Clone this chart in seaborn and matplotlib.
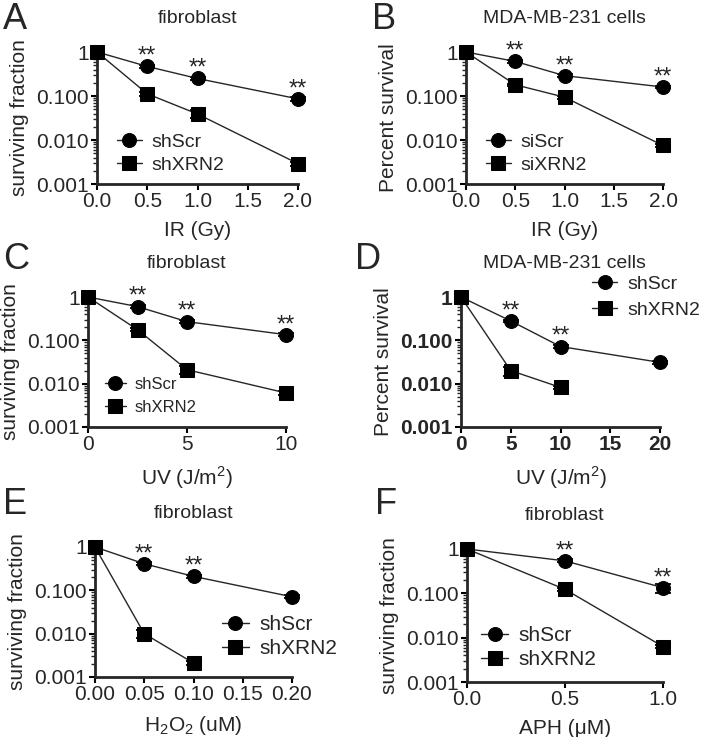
import numpy as np
import pandas as pd
import matplotlib
matplotlib.use("Agg")
import matplotlib.pyplot as plt
from matplotlib.ticker import LogLocator, FixedLocator, NullFormatter
import seaborn as sns

###############################################
# data
###############################################
# A - fibroblast, IR
A_dose = [0, 0.5, 1.0, 2.0]
A_ctrl = [1, 0.47, 0.25, 0.086]
A_ctrl_err = [0, 0.03, 0.02, 0.008]
A_kd = [1, 0.112, 0.039, 0.0029]
A_kd_err = [0, 0.012, 0.008, 0.0003]
A_stars = [0.5, 1.0, 2.0]

# B - MDA-MB-231, IR
B_dose = [0, 0.5, 1.0, 2.0]
B_ctrl = [1, 0.61, 0.29, 0.16]
B_ctrl_err = [0, 0.04, 0.02, 0.01]
B_kd = [1, 0.18, 0.094, 0.0075]
B_kd_err = [0, 0.012, 0.008, 0.0006]
B_stars = [0.5, 1.0, 2.0]

# C - fibroblast, UV
C_dose = [0, 2.5, 5, 10]
C_ctrl = [1, 0.6, 0.27, 0.135]
C_ctrl_err = [0, 0.04, 0.02, 0.01]
C_kd = [1, 0.176, 0.021, 0.0061]
C_kd_err = [0, 0.015, 0.0045, 0.0005]
C_stars = [2.5, 5, 10]

# D - MDA-MB-231, UV
D_dose_ctrl = [0, 5, 10, 20]
D_ctrl = [1, 0.28, 0.072, 0.031]
D_ctrl_err = [0, 0.02, 0.005, 0.002]
D_dose_kd = [0, 5, 10]
D_kd = [1, 0.02, 0.0082]
D_kd_err = [0, 0.0048, 0.0006]
D_stars = [5, 10]

# E - fibroblast, H2O2
E_dose_ctrl = [0, 0.05, 0.10, 0.20]
E_ctrl = [1, 0.41, 0.21, 0.071]
E_ctrl_err = [0, 0.03, 0.015, 0.005]
E_dose_kd = [0, 0.05, 0.10]
E_kd = [1, 0.010, 0.0021]
E_kd_err = [0, 0.0022, 0.0002]
E_stars = [0.05, 0.10]

# F - fibroblast, APH
F_dose = [0, 0.5, 1.0]
F_ctrl = [1, 0.54, 0.134]
F_ctrl_err = [0, 0.04, 0.032]
F_kd = [1, 0.123, 0.0063]
F_kd_err = [0, 0.008, 0.0005]
F_stars = [0.5, 1.0]

y_ticks = [0.001, 0.01, 0.1, 1]
y_ticklabels = ["0.001", "0.010", "0.100", "1"]

###############################################
# style
###############################################
sns.set_style("ticks")
plt.rcParams["font.family"] = ["Liberation Sans", "DejaVu Sans"]
plt.rcParams["mathtext.fontset"] = "custom"
plt.rcParams["mathtext.rm"] = "Liberation Sans"

fig = plt.figure(figsize=(7.02, 7.37), dpi=100)
W, H = 702, 737


def add_axes(px_left, px_right, px_top, px_bottom):
    return fig.add_axes([px_left / W, 1 - px_bottom / H,
                         (px_right - px_left) / W, (px_bottom - px_top) / H])


def draw_panel(ax, ctrl, kd, names, xticks, xlabel, ylabel, title,
               legend_anchor, legend_loc="center left", legend_size=14,
               legend_spacing=0.25, bold_ticks=False, title_x=0.5):
    # ctrl / kd are (dose, value, err)
    rows = []
    for name, (dose, val, _) in zip(names, [ctrl, kd]):
        for d, v in zip(dose, val):
            rows.append({"dose": d, "value": v, "group": name})
    df = pd.DataFrame(rows)

    sns.lineplot(
        data=df, x="dose", y="value", hue="group", style="group",
        markers={names[0]: "o", names[1]: "s"}, dashes=False,
        palette={names[0]: "#262626", names[1]: "#262626"},
        linewidth=1, markersize=10, markeredgecolor="black",
        markerfacecolor="black", clip_on=False, ax=ax, zorder=3,
    )

    for dose, val, err in [ctrl, kd]:
        dose = np.array(dose)
        val = np.array(val)
        err = np.array(err)
        keep = err > 0
        ax.errorbar(dose[keep], val[keep], yerr=err[keep], fmt="none",
                    ecolor="black", elinewidth=1.3, capsize=6, capthick=1.3,
                    clip_on=False, zorder=2)

    ax.set_yscale("log")
    ax.set_ylim(0.001, 1)
    ax.set_xlim(xticks[0], xticks[-1])
    ax.yaxis.set_major_locator(FixedLocator(y_ticks))
    ax.set_yticklabels(y_ticklabels)
    ax.yaxis.set_minor_locator(LogLocator(base=10, subs=np.arange(2, 10)))
    ax.yaxis.set_minor_formatter(NullFormatter())
    ax.set_xticks(xticks)

    sns.despine(ax=ax)
    for s in ["left", "bottom"]:
        ax.spines[s].set_linewidth(2)
    ax.tick_params(axis="both", which="major", length=4, width=1.5,
                   labelsize=15, pad=2, color="black")
    ax.tick_params(axis="y", which="minor", length=3, width=1)
    if bold_ticks:
        for lab in ax.get_xticklabels() + ax.get_yticklabels():
            lab.set_fontweight("bold")

    ax.set_xlabel(xlabel, fontsize=15, labelpad=7)
    ax.set_ylabel(ylabel, fontsize=15, labelpad=5)
    ax.annotate(title, (title_x, 1.0), xycoords="axes fraction",
                xytext=(0, 24), textcoords="offset points",
                ha="center", va="center", fontsize=14)

    sns.move_legend(ax, legend_loc, bbox_to_anchor=legend_anchor,
                    frameon=False, title=None, fontsize=legend_size,
                    handlelength=1.3, handletextpad=0.5,
                    labelspacing=legend_spacing, borderaxespad=0)


def add_stars(ax, dose, val, star_doses):
    for d, v in zip(dose, val):
        if d in star_doses:
            ax.annotate("**", (d, v), xytext=(0, -1), textcoords="offset points",
                        ha="center", va="bottom", fontsize=17)


###############################################
# panels
###############################################
axA = add_axes(97, 298, 52, 184)
draw_panel(axA, (A_dose, A_ctrl, A_ctrl_err), (A_dose, A_kd, A_kd_err),
           ["shScr", "shXRN2"], [0.0, 0.5, 1.0, 1.5, 2.0], "IR (Gy)",
           "surviving fraction", "fibroblast", (0.06, 0.23))
axA.set_xticklabels(["0.0", "0.5", "1.0", "1.5", "2.0"])
add_stars(axA, A_dose, A_ctrl, A_stars)

axB = add_axes(466, 663, 52, 184)
draw_panel(axB, (B_dose, B_ctrl, B_ctrl_err), (B_dose, B_kd, B_kd_err),
           ["siScr", "siXRN2"], [0.0, 0.5, 1.0, 1.5, 2.0], "IR (Gy)",
           "Percent survival", "MDA-MB-231 cells", (0.06, 0.23))
axB.set_xticklabels(["0.0", "0.5", "1.0", "1.5", "2.0"])
add_stars(axB, B_dose, B_ctrl, B_stars)

axC = add_axes(88, 286, 297, 427)
draw_panel(axC, (C_dose, C_ctrl, C_ctrl_err), (C_dose, C_kd, C_kd_err),
           ["shScr", "shXRN2"], [0, 5, 10], "UV (J/m$^2$)",
           "surviving fraction", "fibroblast", (0.05, 0.24), legend_size=12,
           legend_spacing=0.45)
add_stars(axC, C_dose, C_ctrl, C_stars)

axD = add_axes(461, 660, 297, 427)
draw_panel(axD, (D_dose_ctrl, D_ctrl, D_ctrl_err), (D_dose_kd, D_kd, D_kd_err),
           ["shScr", "shXRN2"], [0, 5, 10, 15, 20], "UV (J/m$^2$)",
           "Percent survival", "MDA-MB-231 cells", (0.62, 1.0),
           legend_size=14, legend_spacing=0.45, bold_ticks=True, title_x=0.52)
add_stars(axD, D_dose_ctrl, D_ctrl, D_stars)

axE = add_axes(95, 292, 547, 677)
draw_panel(axE, (E_dose_ctrl, E_ctrl, E_ctrl_err), (E_dose_kd, E_kd, E_kd_err),
           ["shScr", "shXRN2"], [0.0, 0.05, 0.10, 0.15, 0.20],
           "H$_2$O$_2$ (uM)", "surviving fraction", "fibroblast", (0.60, 0.31),
           legend_size=15)
axE.set_xticklabels(["0.00", "0.05", "0.10", "0.15", "0.20"])
add_stars(axE, E_dose_ctrl, E_ctrl, E_stars)

axF = add_axes(467, 663, 549, 682)
draw_panel(axF, (F_dose, F_ctrl, F_ctrl_err), (F_dose, F_kd, F_kd_err),
           ["shScr", "shXRN2"], [0.0, 0.5, 1.0], "APH (\u03bcM)",
           "surviving fraction", "fibroblast", (0.03, 0.26), legend_size=15)
axF.set_xticklabels(["0.0", "0.5", "1.0"])
add_stars(axF, F_dose, F_ctrl, F_stars)

# panel letters
for letter, x, y in [("A", 3, 2), ("B", 372, 2), ("C", 3, 242),
                     ("D", 355, 242), ("E", 3, 487), ("F", 375, 487)]:
    fig.text(x / W, 1 - y / H, letter, fontsize=26, ha="left", va="top")

fig.savefig("out.png", dpi=100)
